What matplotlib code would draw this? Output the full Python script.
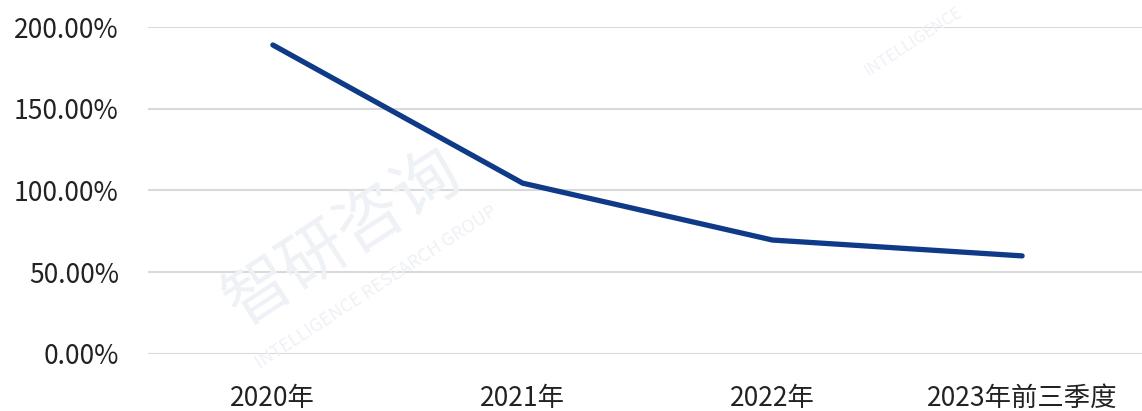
import matplotlib.pyplot as plt
from matplotlib.ticker import FuncFormatter

plt.rcParams['font.family'] = ['Noto Sans CJK SC', 'DejaVu Sans']

categories = ['2020年', '2021年', '2022年', '2023年前三季度']
values = [1.89, 1.045, 0.697, 0.60]   # 增速, 小数表示
yticks = [0, 0.5, 1.0, 1.5, 2.0]

fig = plt.figure(figsize=(11.42, 4.11), dpi=100)
ax = fig.add_axes([0.1296, 0.1387, 0.8704, 0.7956])

# 水印
fig.text(0.30, 0.42, '智研咨询', fontsize=48, color='#eef1f5', rotation=33,
         ha='center', va='center', zorder=0)
fig.text(0.33, 0.30, 'INTELLIGENCE RESEARCH GROUP', fontsize=13, color='#eef1f5',
         rotation=33, ha='center', va='center', zorder=0)
fig.text(0.80, 0.90, 'INTELLIGENCE', fontsize=12, color='#eef1f5',
         rotation=33, ha='center', va='center', zorder=0)

x = list(range(len(categories)))
ax.plot(x, values, color='#0f3a88', linewidth=3.8, solid_capstyle='round',
        solid_joinstyle='round', zorder=3)

ax.set_xlim(-0.5, 3.48)
ax.set_ylim(0, 2.0)
ax.set_yticks(yticks)
ax.yaxis.set_major_formatter(FuncFormatter(lambda v, p: '{:.2f}%'.format(v * 100)))
ax.set_xticks(x)
ax.set_xticklabels(categories)

ax.grid(axis='y', color='#d9d9d9', linewidth=1.5)
ax.set_axisbelow(True)
for s in ax.spines.values():
    s.set_visible(False)
ax.tick_params(axis='both', length=0, labelsize=19, colors='#222222')
ax.tick_params(axis='y', pad=21)
ax.tick_params(axis='x', pad=22)
ax.patch.set_alpha(0)

plt.savefig('out.png', dpi=100)
